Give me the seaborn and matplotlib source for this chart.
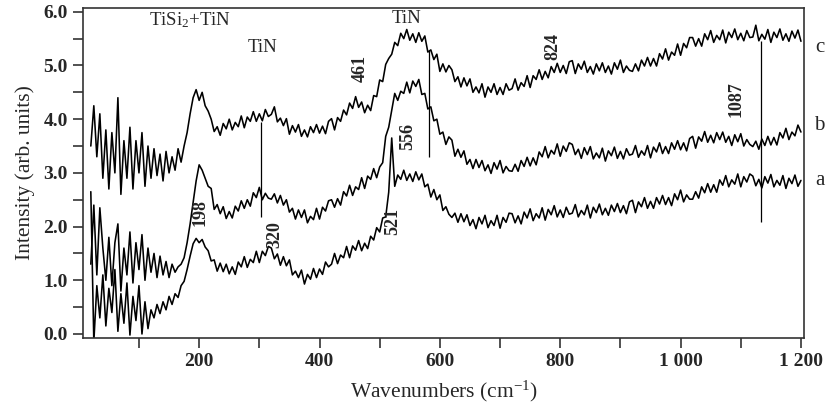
import numpy as np
import matplotlib
matplotlib.use("Agg")
import matplotlib.pyplot as plt
import seaborn as sns
from matplotlib.ticker import MultipleLocator, FixedLocator, FormatStrFormatter

sns.set_style("ticks")
plt.rcParams['font.family'] = ['Liberation Serif', 'DejaVu Serif']
plt.rcParams['mathtext.fontset'] = 'custom'
plt.rcParams['mathtext.rm'] = 'Liberation Serif'
plt.rcParams['mathtext.default'] = 'regular'

# -------------------------------
# Spectra (5 cm-1 steps from 20 to 1200)
# -------------------------------
wavenumber = np.arange(20, 1201, 5)

trace_c = [
    3.5, 4.25, 3.3, 4.1, 2.9, 3.8, 2.7, 3.75, 3.0, 4.4, 2.6, 3.6, 2.9, 3.85, 2.7, 3.6, 3.0, 3.75, 2.75, 3.5,
    2.9, 3.45, 2.95, 3.35, 2.85, 3.4, 3.0, 3.3, 3.05, 3.45, 3.2, 3.5, 3.75, 4.1, 4.4, 4.55, 4.35, 4.5, 4.25, 4.15,
    4.0, 3.77, 3.86, 3.7, 3.92, 3.82, 4.0, 3.8, 3.94, 3.86, 4.06, 3.84, 4.04, 3.96, 4.14, 3.96, 4.1, 3.97, 4.18, 4.05,
    4.09, 4.23, 3.95, 4.02, 3.88, 4.01, 3.72, 3.88, 3.76, 3.9, 3.68, 3.8, 3.67, 3.86, 3.75, 3.9, 3.74, 3.87, 3.73, 3.96,
    4.01, 3.8, 4.03, 3.96, 4.17, 4.08, 4.3, 4.2, 4.42, 4.22, 4.32, 4.12, 4.26, 4.16, 4.44, 4.42, 4.73, 4.7, 5.02, 5.13,
    5.21, 5.43, 5.37, 5.6, 5.5, 5.67, 5.47, 5.59, 5.43, 5.61, 5.45, 5.55, 5.25, 5.29, 5.11, 5.21, 4.89, 5.03, 4.88, 5.0,
    4.92, 4.7, 4.79, 4.6, 4.77, 4.62, 4.75, 4.5, 4.6, 4.49, 4.66, 4.41, 4.6, 4.5, 4.66, 4.46, 4.59, 4.46, 4.66, 4.54,
    4.57, 4.75, 4.54, 4.68, 4.61, 4.81, 4.59, 4.81, 4.74, 4.92, 4.74, 4.89, 4.77, 4.98, 4.87, 5.04, 4.87, 5.0, 4.85, 5.07,
    5.09, 4.85, 5.03, 4.93, 5.08, 4.87, 4.98, 4.84, 5.03, 4.9, 5.05, 4.87, 4.99, 4.84, 5.05, 4.93, 5.1, 4.87, 4.99, 4.91,
    4.89, 5.03, 4.9, 5.1, 4.99, 5.15, 4.99, 5.13, 4.99, 5.22, 5.12, 5.31, 5.1, 5.25, 5.19, 5.4, 5.19, 5.41, 5.33, 5.52,
    5.52, 5.36, 5.5, 5.36, 5.59, 5.48, 5.65, 5.43, 5.56, 5.48, 5.66, 5.42, 5.62, 5.52, 5.68, 5.48, 5.6, 5.46, 5.65, 5.52,
    5.53, 5.75, 5.46, 5.58, 5.49, 5.67, 5.43, 5.62, 5.52, 5.68, 5.47, 5.59, 5.45, 5.64, 5.51, 5.66,
    5.45,
]

trace_b = [
    1.3, 2.4, 1.1, 2.35, 1.6, 1.0, 1.8, 0.9, 1.7, 2.05, 0.8, 1.6, 1.1, 1.9, 0.95, 1.7, 1.2, 1.85, 1.0, 1.6,
    1.15, 1.5, 1.05, 1.45, 1.1, 1.35, 1.05, 1.3, 1.15, 1.25, 1.3, 1.42, 1.7, 2.05, 2.45, 2.85, 3.15, 3.05, 2.9, 2.75,
    2.71, 2.32, 2.41, 2.24, 2.37, 2.15, 2.28, 2.16, 2.38, 2.29, 2.48, 2.34, 2.5, 2.38, 2.63, 2.54, 2.73, 2.5, 2.62, 2.53,
    2.51, 2.61, 2.44, 2.58, 2.4, 2.5, 2.27, 2.34, 2.14, 2.31, 2.17, 2.31, 2.07, 2.19, 2.13, 2.34, 2.14, 2.36, 2.29, 2.48,
    2.5, 2.36, 2.52, 2.4, 2.65, 2.57, 2.77, 2.58, 2.74, 2.69, 2.91, 2.71, 2.94, 2.88, 3.08, 2.91, 3.11, 3.19, 3.68, 3.85,
    4.17, 4.48, 4.35, 4.52, 4.48, 4.69, 4.49, 4.71, 4.61, 4.74, 4.46, 4.48, 4.19, 4.23, 3.97, 4.0, 3.72, 3.76, 3.53, 3.67,
    3.61, 3.31, 3.44, 3.29, 3.41, 3.16, 3.25, 3.08, 3.25, 3.1, 3.23, 3.04, 3.15, 2.99, 3.19, 3.07, 3.23, 3.0, 3.12, 3.04,
    3.03, 3.16, 3.03, 3.23, 3.12, 3.29, 3.13, 3.28, 3.15, 3.39, 3.3, 3.49, 3.28, 3.42, 3.35, 3.54, 3.31, 3.5, 3.4, 3.56,
    3.53, 3.34, 3.44, 3.27, 3.47, 3.34, 3.49, 3.26, 3.37, 3.28, 3.46, 3.22, 3.41, 3.32, 3.48, 3.27, 3.4, 3.26, 3.45, 3.33,
    3.35, 3.51, 3.29, 3.41, 3.33, 3.51, 3.28, 3.48, 3.39, 3.56, 3.36, 3.49, 3.36, 3.56, 3.44, 3.6, 3.43, 3.56, 3.41, 3.64,
    3.68, 3.46, 3.67, 3.59, 3.77, 3.57, 3.7, 3.56, 3.75, 3.62, 3.76, 3.57, 3.68, 3.51, 3.71, 3.58, 3.73, 3.5, 3.62, 3.53,
    3.49, 3.59, 3.44, 3.63, 3.51, 3.68, 3.52, 3.66, 3.52, 3.75, 3.65, 3.83, 3.62, 3.76, 3.69, 3.89,
    3.76,
]

trace_a = [
    2.65, -0.15, 0.9, 0.3, 1.1, 0.15, 0.85, 0.4, 1.2, 0.05, 0.75, 0.2, 0.95, -0.02, 0.7, 0.25, 0.9, 0.0, 0.6, 0.1,
    0.45, 0.3, 0.55, 0.38, 0.6, 0.45, 0.7, 0.55, 0.75, 0.68, 0.9, 0.98, 1.2, 1.45, 1.68, 1.78, 1.7, 1.76, 1.62, 1.55,
    1.36, 1.38, 1.17, 1.32, 1.16, 1.3, 1.12, 1.25, 1.11, 1.34, 1.25, 1.44, 1.24, 1.39, 1.33, 1.54, 1.33, 1.54, 1.46, 1.63,
    1.6, 1.4, 1.49, 1.28, 1.44, 1.27, 1.38, 1.1, 1.17, 1.05, 1.19, 0.93, 1.11, 1.02, 1.22, 1.05, 1.21, 1.11, 1.34, 1.25,
    1.3, 1.5, 1.31, 1.47, 1.42, 1.63, 1.42, 1.64, 1.56, 1.74, 1.55, 1.69, 1.59, 1.82, 1.75, 1.98, 1.9, 2.16, 2.18, 2.64,
    3.65, 2.75, 2.96, 2.88, 3.05, 2.86, 2.98, 2.84, 3.02, 2.87, 2.98, 2.74, 2.79, 2.55, 2.69, 2.5, 2.59, 2.3, 2.37, 2.23,
    2.17, 2.25, 2.08, 2.24, 2.09, 2.22, 2.02, 2.13, 1.96, 2.17, 2.05, 2.21, 1.98, 2.11, 2.02, 2.21, 1.97, 2.17, 2.08, 2.25,
    2.24, 2.07, 2.2, 2.05, 2.27, 2.16, 2.33, 2.11, 2.24, 2.16, 2.35, 2.12, 2.32, 2.22, 2.39, 2.18, 2.31, 2.17, 2.36, 2.23,
    2.25, 2.41, 2.18, 2.3, 2.22, 2.4, 2.16, 2.36, 2.26, 2.42, 2.22, 2.34, 2.21, 2.4, 2.28, 2.43, 2.26, 2.39, 2.24, 2.46,
    2.49, 2.26, 2.46, 2.37, 2.54, 2.34, 2.47, 2.34, 2.54, 2.42, 2.58, 2.41, 2.54, 2.39, 2.61, 2.5, 2.68, 2.46, 2.59, 2.51,
    2.51, 2.65, 2.53, 2.74, 2.63, 2.8, 2.64, 2.78, 2.64, 2.87, 2.77, 2.95, 2.74, 2.87, 2.79, 2.98, 2.74, 2.93, 2.83, 2.98,
    2.94, 2.76, 2.88, 2.72, 2.93, 2.81, 2.97, 2.74, 2.86, 2.77, 2.95, 2.71, 2.9, 2.8, 2.96, 2.75,
    2.86,
]

# marker lines (wavenumber, bottom, top)
marker_x = [303, 582, 1134]
marker_lo = [2.18, 3.3, 2.09]
marker_hi = [3.95, 5.29, 5.45]

# peak labels
peak_labels = ["461", "824", "556", "1087", "198", "320", "521"]
peak_x = [467, 788, 547, 1092, 202, 326, 522]
peak_y = [4.95, 5.36, 3.67, 4.38, 2.27, 1.86, 2.09]

# phase labels
phase_labels = ["TiSi$_2$+TiN", "TiN", "TiN"]
phase_x = [185, 306, 544]
phase_y = [5.85, 5.33, 5.87]

# trace names
trace_names = ["c", "b", "a"]
trace_name_y = [5.34, 3.89, 2.85]

xtick_major = [200, 400, 600, 800, 1000, 1200]
xtick_minor = [100, 300, 500, 700, 900, 1100]
xtick_labels = ["200", "400", "600", "800", "1 000", "1 200"]

# -------------------------------
# Plot
# -------------------------------
fig = plt.figure(figsize=(8.4, 4.07), dpi=100)
ax = fig.add_axes([0.0988, 0.1695, 0.8583, 0.8108])

for tr in [trace_a, trace_b, trace_c]:
    sns.lineplot(x=wavenumber, y=tr, color='black', linewidth=1.15, ax=ax)

ax.vlines(marker_x, marker_lo, marker_hi, color='black', linewidth=0.9)

ax.set_xlim(7, 1205)
ax.set_ylim(-0.075, 6.07)

ax.xaxis.set_major_locator(FixedLocator(xtick_major))
ax.set_xticklabels(xtick_labels)
ax.xaxis.set_minor_locator(FixedLocator(xtick_minor))
ax.yaxis.set_major_locator(MultipleLocator(1.0))
ax.yaxis.set_minor_locator(MultipleLocator(0.5))
ax.yaxis.set_major_formatter(FormatStrFormatter('%.1f'))

ax.tick_params(which='both', direction='out', length=7, width=1.2, color='#333333',
               top=False, right=False)
ax.tick_params(axis='both', which='major', labelsize=14, pad=4)
for lab in ax.get_xticklabels() + ax.get_yticklabels():
    lab.set_fontweight('bold')

for sp in ax.spines.values():
    sp.set_linewidth(1.2)
    sp.set_color('#333333')

ax.set_xlabel('Wavenumbers (cm$^{-1}$)', fontsize=15.5, labelpad=6)
ax.set_ylabel('Intensity (arb. units)', fontsize=15.5, labelpad=6)

for t, x, y in zip(phase_labels, phase_x, phase_y):
    ax.text(x, y, t, fontsize=13.5, ha='center', va='center')

for t, x, y in zip(peak_labels, peak_x, peak_y):
    ax.text(x, y, t, fontsize=13, fontweight='bold', rotation=90, ha='center', va='center')

for t, y in zip(trace_names, trace_name_y):
    ax.text(1231, y, t, fontsize=15, ha='center', va='center', clip_on=False)

fig.savefig('out.png', dpi=100)
